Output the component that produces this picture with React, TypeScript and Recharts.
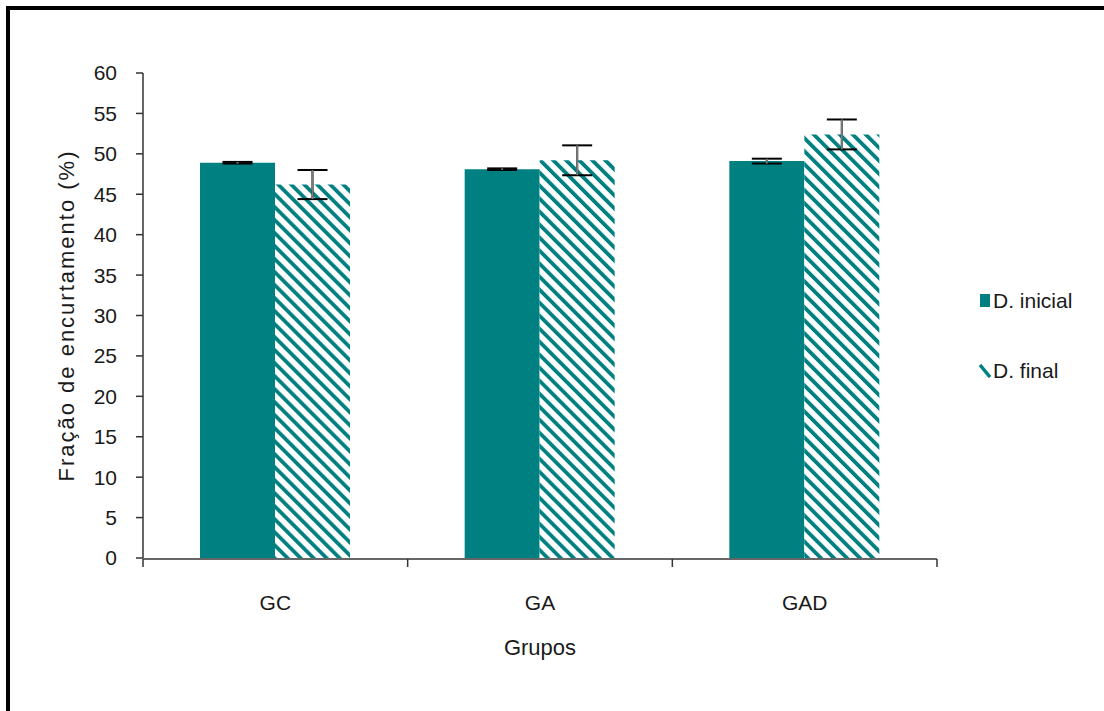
import React from 'react'
import { BarChart, Bar, XAxis, YAxis, ErrorBar } from 'recharts'

const GROUPS = ['GC', 'GA', 'GAD']
const INICIAL = [48.9, 48.1, 49.1]
const INICIAL_ERR = [0.1, 0.1, 0.3]
const FINAL = [46.2, 49.2, 52.4]
const FINAL_ERR = [1.8, 1.85, 1.85]
const Y_TICKS = [0, 5, 10, 15, 20, 25, 30, 35, 40, 45, 50, 55, 60]
const EDGE_TICKS = [0, 1, 2, 3]
const SERIES = [
  { key: 'inicial', name: 'D. inicial' },
  { key: 'final', name: 'D. final' },
]

const TEAL = '#008080'
const AXIS = '#333'
const TEXT = '#1a1a1a'
const FONT = '"Liberation Sans", Arial, sans-serif'

const data = GROUPS.map((g, i) => ({
  grupo: g,
  idx: i + 0.5,
  inicial: INICIAL[i],
  inicialErr: INICIAL_ERR[i],
  final: FINAL[i],
  finalErr: FINAL_ERR[i],
}))

const tickText = { fill: TEXT, fontSize: 21, fontFamily: FONT }

function LegendBox() {
  return (
    <div style={{ position: 'absolute', left: 978, top: 266, fontFamily: FONT, fontSize: 21, color: TEXT }}>
      {SERIES.map((s) => (
        <div key={s.key} style={{ height: 70, display: 'flex', alignItems: 'center' }}>
          <svg width={14} height={14}>
            {s.key === 'inicial' ? (
              <rect x={2} y={0} width={10} height={13} fill={TEAL} />
            ) : (
              <line x1={2} y1={1} x2={12} y2={13} stroke={TEAL} strokeWidth={3.5} />
            )}
          </svg>
          <span style={{ marginLeft: 1 }}>{s.name}</span>
        </div>
      ))}
    </div>
  )
}

export default function App() {
  return (
    <div style={{ position: 'absolute', left: 0, top: 0, width: 1104, height: 711, overflow: 'hidden', background: '#fff' }}>
      <div
        style={{
          position: 'absolute',
          left: 6,
          top: 6,
          right: 0,
          bottom: 0,
          borderTop: '4px solid #000',
          borderLeft: '4px solid #000',
        }}
      />
      <div style={{ position: 'absolute', left: 0, top: 0 }}>
        <BarChart
          width={1104}
          height={711}
          data={data}
          margin={{ top: 73, right: 167, bottom: 151, left: 0 }}
          barGap={0}
        >
          <defs>
            <pattern id="hatch" patternUnits="userSpaceOnUse" width={9.2} height={9.2} patternTransform="rotate(-45)">
              <rect width={9.2} height={9.2} fill="#fff" />
              <rect width={3.8} height={9.2} fill={TEAL} />
            </pattern>
          </defs>
          {/* numeric axis only used for the group boundary ticks */}
          <XAxis
            xAxisId="edge"
            dataKey="idx"
            type="number"
            domain={[0, 3]}
            ticks={EDGE_TICKS}
            interval={0}
            allowDataOverflow
            height={1}
            tickSize={8}
            tick={() => <g />}
            axisLine={{ stroke: AXIS, strokeWidth: 1.5 }}
            tickLine={{ stroke: AXIS, strokeWidth: 1.5 }}
          />
          <XAxis
            xAxisId="cat"
            dataKey="grupo"
            height={1}
            tickSize={0}
            tickMargin={37}
            axisLine={false}
            tickLine={false}
            tick={tickText}
            label={{ value: 'Grupos', position: 'bottom', offset: 80, fill: TEXT, fontSize: 22, fontFamily: FONT }}
          />
          <YAxis
            width={143}
            domain={[0, 60]}
            ticks={Y_TICKS}
            interval={0}
            tickSize={7}
            tickMargin={19}
            tick={tickText}
            axisLine={{ stroke: AXIS, strokeWidth: 1.5 }}
            tickLine={{ stroke: AXIS, strokeWidth: 1.5 }}
            label={{
              value: 'Fração de encurtamento (%)',
              angle: -90,
              position: 'insideLeft',
              offset: 66,
              fill: TEXT,
              fontSize: 22,
              fontFamily: FONT,
              style: { textAnchor: 'middle', letterSpacing: 2 },
            }}
          />
          <Bar xAxisId="cat" dataKey="inicial" name="D. inicial" fill={TEAL} barSize={75} isAnimationActive={false}>
            <ErrorBar dataKey="inicialErr" width={15} stroke="#000" strokeWidth={2} isAnimationActive={false} />
            <ErrorBar dataKey="inicialErr" width={0} stroke="#7a7a7a" strokeWidth={2} isAnimationActive={false} />
          </Bar>
          <Bar xAxisId="cat" dataKey="final" name="D. final" fill="url(#hatch)" barSize={75} isAnimationActive={false}>
            <ErrorBar dataKey="finalErr" width={15} stroke="#000" strokeWidth={2} isAnimationActive={false} />
            <ErrorBar dataKey="finalErr" width={0} stroke="#7a7a7a" strokeWidth={2} isAnimationActive={false} />
          </Bar>
        </BarChart>
      </div>
      <LegendBox />
    </div>
  )
}
